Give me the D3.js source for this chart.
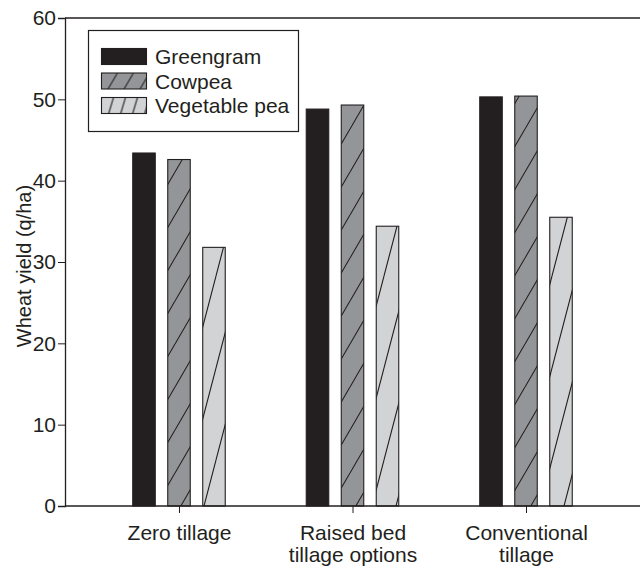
<!DOCTYPE html>
<html>
<head>
<meta charset="utf-8">
<script src="https://cdn.jsdelivr.net/npm/d3@7"></script>
<style>
  body { margin: 0; background: #fff; }
  svg { display: block; font-family: "Liberation Sans", Arial, sans-serif; }
</style>
</head>
<body>
<div class="bar-chart"></div>
<script>
// data
const categories = [["Zero tillage"], ["Raised bed", "tillage options"], ["Conventional", "tillage"]];
const series = ["Greengram", "Cowpea", "Vegetable pea"];
const greengram = [43.4, 48.8, 50.3];
const cowpea = [42.6, 49.3, 50.4];
const vegetablePea = [31.8, 34.4, 35.5];
const yTicks = [0, 10, 20, 30, 40, 50, 60];

const values = [greengram, cowpea, vegetablePea];
const catKeys = categories.map(d => d.join(" "));

const ink = "#231f20";

// set the dimensions and margins
const width = 640, height = 568;
const margin = { top: 18, right: 0, bottom: 62, left: 65 };

const svg = d3.select(".bar-chart")
  .append("svg")
  .attr("width", width)
  .attr("height", height);

// hatch patterns (tile: line of slope h/w, repeated)
const defs = svg.append("defs");
function hatch(id, bg, w, h) {
  const p = defs.append("pattern")
    .attr("id", id)
    .attr("patternUnits", "userSpaceOnUse")
    .attr("width", w)
    .attr("height", h);
  p.append("rect").attr("width", w).attr("height", h).attr("fill", bg);
  p.append("path")
    .attr("d", `M${-w},${h}L0,0M0,${h}L${w},0M${w},${h}L${2 * w},0`)
    .attr("stroke", ink)
    .attr("stroke-width", 1.1)
    .attr("fill", "none");
}
hatch("hatch-cowpea", "#939598", 25, 43);
hatch("hatch-veg", "#d1d3d4", 24, 92);
hatch("hatch-cowpea-key", "#939598", 16, 27);
hatch("hatch-veg-key", "#d1d3d4", 12, 40);
const barFill = ["#231f20", "url(#hatch-cowpea)", "url(#hatch-veg)"];
const keyFill = ["#231f20", "url(#hatch-cowpea-key)", "url(#hatch-veg-key)"];

// scales
const x0 = d3.scalePoint()
  .domain(catKeys)
  .range([margin.left, width - margin.right])
  .padding(0.657);

const x1 = d3.scaleBand()
  .domain(series)
  .range([-46.25, 46.25])
  .paddingInner(0.357)
  .paddingOuter(0);

const y = d3.scaleLinear()
  .domain([0, 60])
  .range([height - margin.bottom, margin.top]);

// top frame line
svg.append("line")
  .attr("x1", margin.left).attr("x2", width)
  .attr("y1", y(60)).attr("y2", y(60))
  .attr("stroke", ink).attr("stroke-width", 1.3);

// bars
const rows = [];
catKeys.forEach((c, i) => {
  series.forEach((s, j) => rows.push({ cat: c, s: s, j: j, v: values[j][i] }));
});

svg.append("g")
  .selectAll("rect")
  .data(rows)
  .join("rect")
  .attr("x", d => x0(d.cat) + x1(d.s))
  .attr("y", d => y(d.v))
  .attr("width", x1.bandwidth())
  .attr("height", d => y(0) - y(d.v))
  .attr("fill", d => barFill[d.j])
  .attr("stroke", ink)
  .attr("stroke-width", 1.1);

// Y axis
const yAxis = svg.append("g")
  .attr("transform", `translate(${margin.left},0)`)
  .call(d3.axisLeft(y).tickValues(yTicks).tickSize(7).tickPadding(2));
yAxis.select(".domain").attr("stroke", ink).attr("stroke-width", 1.3);
yAxis.selectAll(".tick line").attr("stroke", ink);
yAxis.selectAll(".tick text")
  .attr("fill", ink)
  .style("font-size", "21px");

// X axis
const xAxis = svg.append("g")
  .attr("transform", `translate(0,${y(0)})`)
  .call(d3.axisBottom(x0).tickSize(7).tickSizeOuter(0).tickFormat(""));
xAxis.select(".domain")
  .attr("d", `M${margin.left},0H${width}`)
  .attr("stroke", ink).attr("stroke-width", 1.3);
xAxis.selectAll(".tick line").attr("stroke", ink);

// multi-line category labels
xAxis.selectAll(".tick")
  .append("text")
  .attr("fill", ink)
  .attr("text-anchor", "middle")
  .style("font-size", "21px")
  .each(function (d, i) {
    d3.select(this).selectAll("tspan")
      .data(categories[i])
      .join("tspan")
      .attr("x", 0)
      .attr("y", (t, k) => 34 + k * 22)
      .text(t => t);
  });

// Y axis label
svg.append("text")
  .attr("transform", `translate(31,${(y(0) + y(60)) / 2 + 4}) rotate(-90)`)
  .attr("text-anchor", "middle")
  .attr("fill", ink)
  .style("font-size", "20px")
  .text("Wheat yield (q/ha)");

// legend
const legend = svg.append("g");
legend.append("rect")
  .attr("x", 88.5).attr("y", 30.5)
  .attr("width", 210).attr("height", 101)
  .attr("fill", "#fff")
  .attr("stroke", ink)
  .attr("stroke-width", 1.2);

const keys = legend.selectAll("g.key")
  .data(series)
  .join("g")
  .attr("class", "key")
  .attr("transform", (d, i) => `translate(101.5,${48.5 + i * 24.5})`);
keys.append("rect")
  .attr("width", 45)
  .attr("height", 16)
  .attr("fill", (d, i) => keyFill[i])
  .attr("stroke", ink)
  .attr("stroke-width", 1.1);
keys.append("text")
  .attr("x", 53.5)
  .attr("y", 15.5)
  .attr("fill", ink)
  .style("font-size", "21px")
  .text(d => d);
</script>
</body>
</html>
